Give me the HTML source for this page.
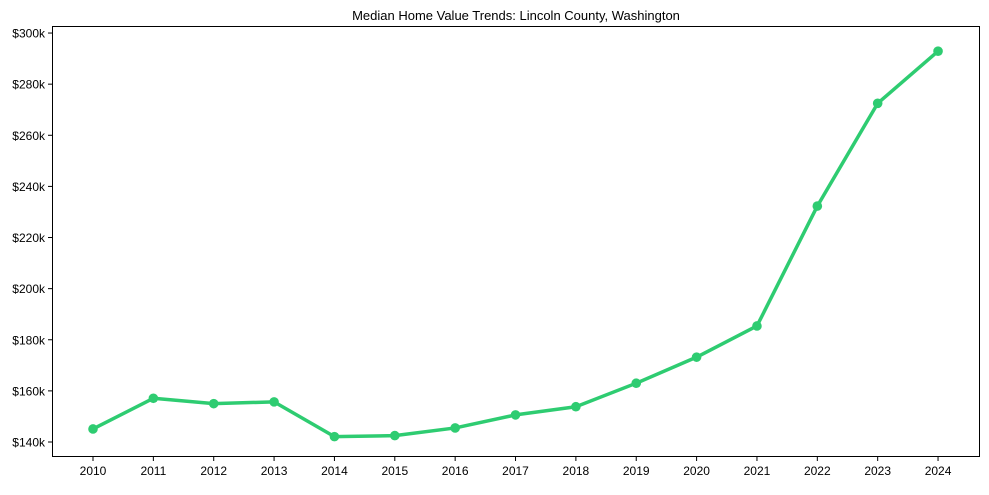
<!DOCTYPE html>
<html><head><meta charset="utf-8"><style>
body{margin:0;background:#fff;}
svg text{font-family:"Liberation Sans Narrow","Liberation Sans",sans-serif;fill:#000;}
</style></head><body>
<svg id="chart" width="989" height="490" xmlns="http://www.w3.org/2000/svg">
<text x="516" y="20" font-size="13" text-anchor="middle">Median Home Value Trends: Lincoln County, Washington</text>
<rect x="52.5" y="26.5" width="927" height="430" fill="none" stroke="#000" stroke-width="1"/>
<g id="ticks"></g><g id="series"></g>
</svg>
<script>
const years=[2010,2011,2012,2013,2014,2015,2016,2017,2018,2019,2020,2021,2022,2023,2024];
const values=[145.1,157.1,155.0,155.7,142.1,142.5,145.5,150.6,153.8,163.0,173.2,185.4,232.3,272.5,292.9];
const yTicks=[140,160,180,200,220,240,260,280,300];
const NS="http://www.w3.org/2000/svg";
const x=v=>93+(v-2010)*60.36;
const y=v=>442-(v-140)*2.556;
const tg=document.getElementById('ticks'),sg=document.getElementById('series');
function mk(t,a,p){const e=document.createElementNS(NS,t);for(const k in a)e.setAttribute(k,a[k]);p.appendChild(e);return e;}
yTicks.forEach(t=>{
 mk('line',{x1:48,x2:52.5,y1:y(t),y2:y(t),stroke:'#000'},tg);
 const tx=mk('text',{x:45,y:y(t)+4.5,'font-size':12,'text-anchor':'end'},tg);tx.textContent='$'+t+'k';
 
 
});
years.forEach(yr=>{
 mk('line',{x1:x(yr),x2:x(yr),y1:456.5,y2:461,stroke:'#000'},tg);
 const tx=mk('text',{x:x(yr),y:475,'font-size':12,'text-anchor':'middle'},tg);tx.textContent=yr;
 
 
});
const pl=mk('polyline',{points:years.map((yr,i)=>x(yr)+','+y(values[i])).join(' '),fill:'none',stroke:'#2ecc71','stroke-width':3.5,'stroke-linejoin':'round'},sg);


years.forEach((yr,i)=>{
 const c=mk('circle',{cx:x(yr),cy:y(values[i]),r:4.8,fill:'#2ecc71'},sg);
 
 
});
</script>
</body></html>
